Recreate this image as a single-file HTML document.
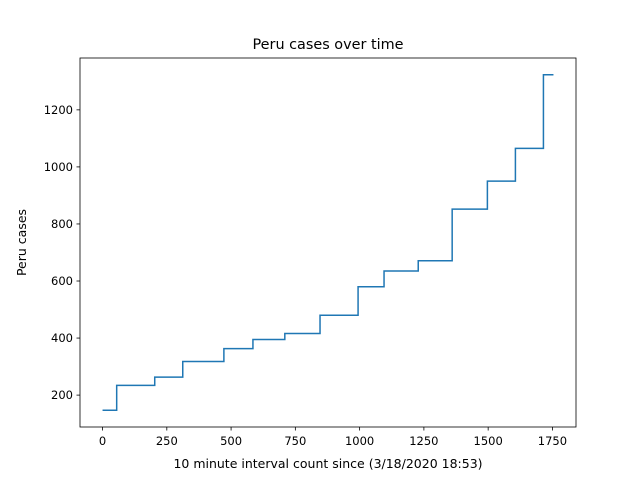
<!DOCTYPE html>
<html><head><meta charset="utf-8"><style>
body{margin:0;background:#fff;font-family:"Liberation Sans","DejaVu Sans",sans-serif;}
svg text{font-family:"DejaVu Sans","Liberation Sans",sans-serif;}
</style></head><body>
<svg id="chart" width="640" height="480" xmlns="http://www.w3.org/2000/svg">
<rect width="640" height="480" fill="#fff"/>
<text x="328" y="49" font-size="14.4" text-anchor="middle">Peru cases over time</text>
<text x="328" y="468" font-size="12.5" text-anchor="middle">10 minute interval count since (3/18/2020 18:53)</text>
<text transform="translate(26,242.5) rotate(-90)" font-size="12.5" text-anchor="middle">Peru cases</text>
<g id="ticks"></g>
<path id="line" fill="none" stroke="#1f77b4" stroke-width="1.5"/>
<rect x="80" y="58" width="496" height="369" fill="none" stroke="#000" stroke-width="0.8"/>
</svg>
<script>
const xs=[0,55,203,312,472,585,709,846,994,1095,1228,1360,1497,1606,1715,1754];
const ys=[147,234,263,318,363,395,416,480,580,635,671,852,950,1065,1323,1323];
const xTicks=[0,250,500,750,1000,1250,1500,1750];
const yTicks=[200,400,600,800,1000,1200];
const L=80,R=576,T=58,B=427;
const xmin=Math.min(...xs),xmax=Math.max(...xs),ymin=Math.min(...ys),ymax=Math.max(...ys);
const xr=xmax-xmin,yr=ymax-ymin;
const x0=xmin-0.05*xr,x1=xmax+0.05*xr,y0=ymin-0.05*yr,y1=ymax+0.05*yr;
const sx=v=>L+(v-x0)/(x1-x0)*(R-L);
const sy=v=>B-(v-y0)/(y1-y0)*(B-T);
let d='M'+sx(xs[0])+','+sy(ys[0]);
for(let i=1;i<xs.length;i++){d+=' L'+sx(xs[i])+','+sy(ys[i-1])+' L'+sx(xs[i])+','+sy(ys[i]);}
document.getElementById('line').setAttribute('d',d);
const g=document.getElementById('ticks');const NS='http://www.w3.org/2000/svg';
xTicks.forEach(v=>{const x=sx(v);
const l=document.createElementNS(NS,'line');l.setAttribute('x1',x);l.setAttribute('x2',x);l.setAttribute('y1',B);l.setAttribute('y2',B+3.5);l.setAttribute('stroke','#000');l.setAttribute('stroke-width','0.8');


g.appendChild(l);
const t=document.createElementNS(NS,'text');t.setAttribute('x',x);t.setAttribute('y',B+18);t.setAttribute('font-size','11.5');t.setAttribute('text-anchor','middle');t.textContent=v;


g.appendChild(t);});
yTicks.forEach(v=>{const y=sy(v);
const l=document.createElementNS(NS,'line');l.setAttribute('x1',L-3.5);l.setAttribute('x2',L);l.setAttribute('y1',y);l.setAttribute('y2',y);l.setAttribute('stroke','#000');l.setAttribute('stroke-width','0.8');


g.appendChild(l);
const t=document.createElementNS(NS,'text');t.setAttribute('x',L-7);t.setAttribute('y',y+4);t.setAttribute('font-size','11.5');t.setAttribute('text-anchor','end');t.textContent=v;


g.appendChild(t);});
</script>
</body></html>
